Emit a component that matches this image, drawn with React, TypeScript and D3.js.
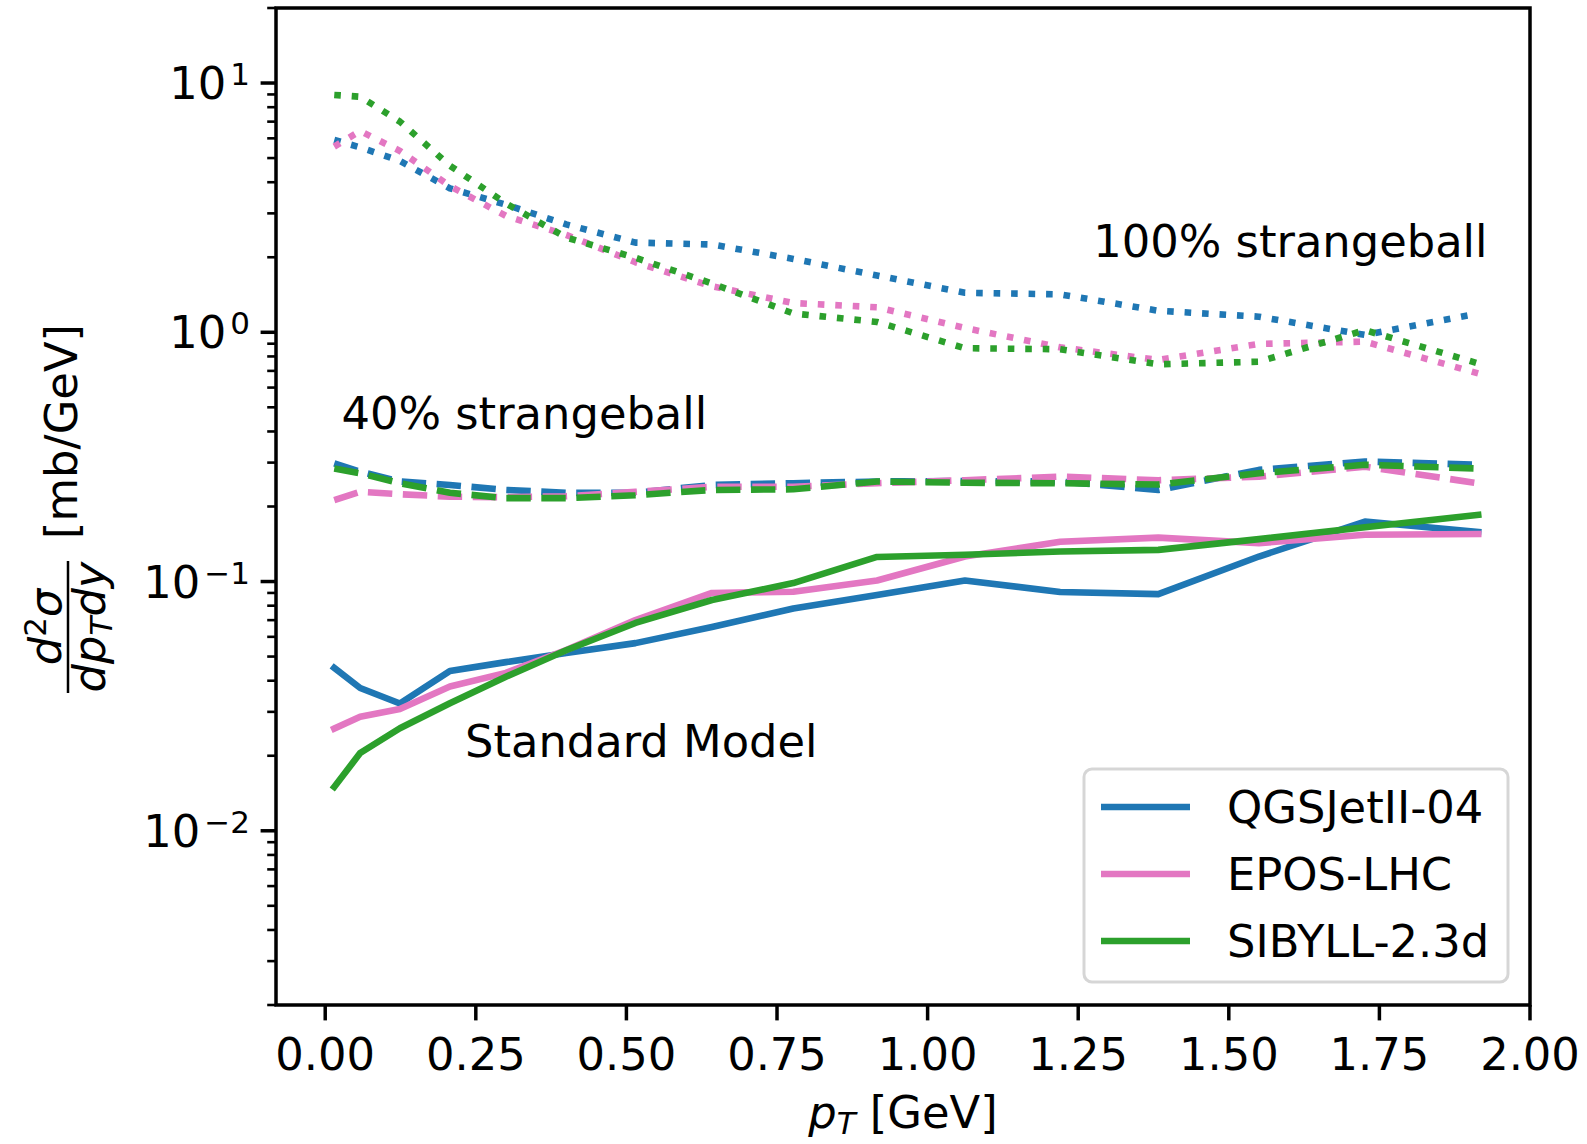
import React from "react";
import * as d3 from "d3";

// Transverse-momentum bin centres [GeV]
const pT = [0.015, 0.058, 0.124, 0.207, 0.3, 0.4, 0.515, 0.642, 0.777, 0.916, 1.062, 1.22, 1.383, 1.55, 1.726, 1.914];

// Standard Model (solid)
const qgsSM = [0.045, 0.0374, 0.0324, 0.0438, 0.0475, 0.0517, 0.0566, 0.0657, 0.078, 0.0883, 0.101, 0.0908, 0.089, 0.126, 0.174, 0.158];
const eposSM = [0.0257, 0.0287, 0.0308, 0.0379, 0.043, 0.0531, 0.07, 0.09, 0.091, 0.101, 0.126, 0.1445, 0.15, 0.1426, 0.154, 0.155];
const sibSM = [0.015, 0.0205, 0.0258, 0.0325, 0.0415, 0.053, 0.0682, 0.0843, 0.0986, 0.1255, 0.128, 0.132, 0.134, 0.148, 0.165, 0.185];

// 40% strangeball (dashed)
const qgs40 = [0.298, 0.276, 0.252, 0.244, 0.233, 0.227, 0.227, 0.244, 0.248, 0.252, 0.253, 0.252, 0.233, 0.2805, 0.303, 0.294];
const epos40 = [0.212, 0.229, 0.224, 0.219, 0.218, 0.22, 0.229, 0.24, 0.24, 0.248, 0.255, 0.2635, 0.255, 0.2635, 0.289, 0.248];
const sib40 = [0.284, 0.272, 0.248, 0.227, 0.216, 0.216, 0.222, 0.233, 0.2345, 0.252, 0.249, 0.248, 0.245, 0.272, 0.294, 0.284];

// 100% strangeball (dotted)
const qgs100 = [5.91, 5.52, 4.87, 3.78, 3.25, 2.71, 2.29, 2.25, 1.97, 1.69, 1.44, 1.42, 1.22, 1.155, 0.976, 1.19];
const epos100 = [5.56, 6.42, 5.34, 3.86, 2.93, 2.46, 1.91, 1.53, 1.31, 1.26, 1.04, 0.87, 0.774, 0.898, 0.917, 0.684];
const sib100 = [8.96, 8.81, 7.0, 4.66, 3.29, 2.4, 1.99, 1.57, 1.19, 1.1, 0.863, 0.855, 0.744, 0.762, 1.02, 0.75];

const models = ["QGSJetII-04", "EPOS-LHC", "SIBYLL-2.3d"];
const modelColors = ["#1f77b4", "#e377c2", "#2ca02c"];

const xTicks = [0, 0.25, 0.5, 0.75, 1.0, 1.25, 1.5, 1.75, 2.0];
const yMajorExps = [-2, -1, 0, 1];

const annotations = [
  { text: "100% strangeball", x: 1.275, y: 2.0 },
  { text: "40% strangeball", x: 0.027, y: 0.41 },
  { text: "Standard Model", x: 0.232, y: 0.0198 },
];

const W = 1587;
const H = 1144;
const L = 276, R = 1530, T = 8, B = 1005;
const FS = 44.8;
const SUP = 31;
const LW = 6.6;
const FONT = "DejaVu Sans, Verdana, sans-serif";

export default function App() {
  const x = d3.scaleLinear().domain([-0.0817, 2.0]).range([L, R]);
  const y = d3.scaleLog().domain([0.002, 20]).range([B, T]);

  const line = d3
    .line<number>()
    .x((_, i) => x(pT[i]))
    .y((v) => y(v));

  const series = [
    { vals: [qgsSM, eposSM, sibSM], dash: undefined as string | undefined },
    { vals: [qgs40, epos40, sib40], dash: `${3.7 * LW} ${1.6 * LW}` },
    { vals: [qgs100, epos100, sib100], dash: `${1 * LW} ${1.65 * LW}` },
  ];

  // minor ticks 2..9 per decade inside the domain
  const minor: number[] = [];
  for (let e = -3; e <= 1; e++) {
    for (let k = 2; k <= 9; k++) {
      const v = k * Math.pow(10, e);
      if (v >= 0.002 - 1e-12 && v <= 20 + 1e-9) minor.push(v);
    }
  }

  const legX = 1084, legY = 769, legW = 424, legH = 213;

  return (
    <svg
      width={W}
      height={H}
      style={{ position: "absolute", left: 0, top: 0, display: "block" }}
      fontFamily={FONT}
    >
      <rect x={0} y={0} width={W} height={H} fill="#ffffff" />

      <defs>
        <clipPath id="plotArea">
          <rect x={L} y={T} width={R - L} height={B - T} />
        </clipPath>
      </defs>

      {/* data lines */}
      <g clipPath="url(#plotArea)" fill="none">
        {series.map((s, si) =>
          s.vals.map((vals, mi) => (
            <path
              key={`${si}-${mi}`}
              d={line(vals) || ""}
              stroke={modelColors[mi]}
              strokeWidth={LW}
              strokeDasharray={s.dash}
              strokeLinecap={s.dash ? "butt" : "square"}
              strokeLinejoin="round"
            />
          ))
        )}
      </g>

      {/* annotations */}
      {annotations.map((a) => (
        <text key={a.text} x={x(a.x)} y={y(a.y)} fontSize={FS} fill="#000">
          {a.text}
        </text>
      ))}

      {/* legend */}
      <rect
        x={legX}
        y={legY}
        width={legW}
        height={legH}
        rx={8}
        ry={8}
        fill="#ffffff"
        fillOpacity={0.8}
        stroke="#cccccc"
        strokeOpacity={0.8}
        strokeWidth={3}
      />
      {models.map((m, i) => {
        const ly = 807 + i * 67;
        return (
          <g key={m}>
            <line x1={1101} x2={1190} y1={ly} y2={ly} stroke={modelColors[i]} strokeWidth={LW} />
            <text x={1227} y={ly + 16} fontSize={FS} fill="#000">
              {m}
            </text>
          </g>
        );
      })}

      {/* spines */}
      <rect x={L} y={T} width={R - L} height={B - T} fill="none" stroke="#000" strokeWidth={3.5} />

      {/* x axis */}
      {xTicks.map((t) => (
        <g key={t}>
          <line x1={x(t)} x2={x(t)} y1={B} y2={B + 15.4} stroke="#000" strokeWidth={3.5} />
          <text x={x(t)} y={1070} fontSize={FS} textAnchor="middle" fill="#000">
            {t.toFixed(2)}
          </text>
        </g>
      ))}
      <text x={(L + R) / 2} y={1128} fontSize={FS} textAnchor="middle" fill="#000">
        <tspan fontStyle="italic">p</tspan>
        <tspan fontStyle="italic" fontSize={SUP} dy={6}>T</tspan>
        <tspan dy={-6}> [GeV]</tspan>
      </text>

      {/* y axis */}
      {minor.map((v) => (
        <line key={`m${v}`} x1={L - 8.8} x2={L} y1={y(v)} y2={y(v)} stroke="#000" strokeWidth={2.6} />
      ))}
      {yMajorExps.map((e) => {
        const v = Math.pow(10, e);
        const yy = y(v);
        return (
          <g key={e}>
            <line x1={L - 15.4} x2={L} y1={yy} y2={yy} stroke="#000" strokeWidth={3.5} />
            <text x={250} y={yy + 16} fontSize={FS} textAnchor="end" fill="#000">
              10
              <tspan fontSize={SUP} dx={4} dy={-14}>
                {e < 0 ? `\u2212${-e}` : `${e}`}
              </tspan>
            </text>
          </g>
        );
      })}

      {/* y label: d²σ / (dp_T dy) [mb/GeV] */}
      <text transform="translate(77, 539) rotate(-90)" fontSize={FS} fill="#000">
        [mb/GeV]
      </text>
      <line x1={68} x2={68} y1={561} y2={693} stroke="#000" strokeWidth={2.5} />
      <text transform="translate(61, 627) rotate(-90)" fontSize={FS} textAnchor="middle" fill="#000">
        <tspan fontStyle="italic">d</tspan>
        <tspan fontSize={SUP} dy={-15}>2</tspan>
        <tspan fontStyle="italic" dy={15}>σ</tspan>
      </text>
      <text transform="translate(105, 627) rotate(-90)" fontSize={FS} textAnchor="middle" fill="#000">
        <tspan fontStyle="italic">dp</tspan>
        <tspan fontStyle="italic" fontSize={SUP} dy={7}>T</tspan>
        <tspan fontStyle="italic" dy={-7}>dy</tspan>
      </text>
    </svg>
  );
}
